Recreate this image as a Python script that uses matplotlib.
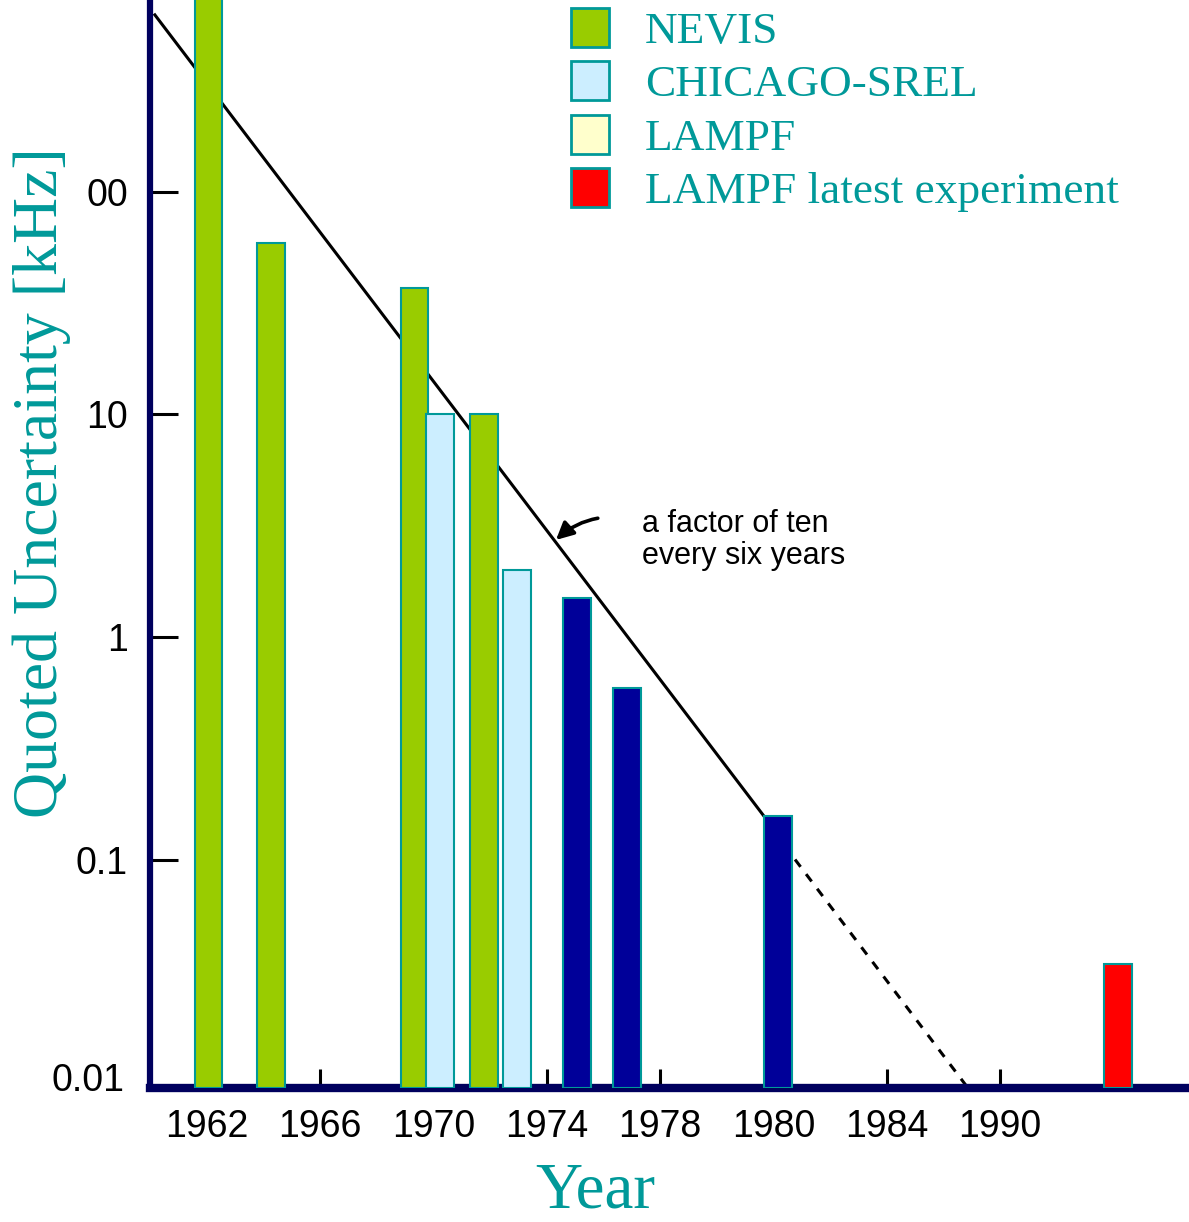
import matplotlib
matplotlib.use('Agg')
import matplotlib.pyplot as plt
from matplotlib.patches import Patch
from matplotlib.transforms import ScaledTranslation

# tick slots along the (hand-labelled) year axis
year_labels = ['1962', '1966', '1970', '1974', '1978', '1980', '1984', '1990']
year_pos = [0, 1, 2, 3, 4, 5, 6, 7]

# bar positions (in tick slots) and quoted uncertainties [kHz]
nevis_x = [0.01, 0.565, 1.83, 2.445]
nevis_val = [1000, 59, 37, 10]
chicago_x = [2.056, 2.736]
chicago_val = [10, 2.0]
lampf_x = [3.266, 3.707, 5.04]
lampf_val = [1.5, 0.59, 0.157]
latest_x = [8.04]
latest_val = [0.034]

# "factor of ten every six years" trend line
trend_x = [-0.46, 4.91]
trend_val = [625, 0.158]
trend_ext_x = [5.19, 6.73]
trend_ext_val = [0.10, 0.0092]

ytick_vals = [100, 10, 1, 0.1, 0.01]
ytick_labels = ['00', '10', '1', '0.1', '0.01']

teal = '#009999'
navy = '#00005e'
sans = ['Liberation Sans', 'DejaVu Sans']
serif = ['Liberation Serif', 'DejaVu Serif']

fig = plt.figure(figsize=(11.89, 12.22), dpi=100)
ax = fig.add_axes([150/1189, 1 - 1088/1222, 1039/1189, 1088/1222])
ax.set_yscale('log')
ymin, ymax = 0.0094, 729
ax.set_xlim(-0.503, 8.667)
ax.set_ylim(ymin, ymax)

w = 0.24
def bars(xs, vals, color):
    ax.bar(xs, [v - ymin for v in vals], bottom=ymin, width=w, color=color,
           edgecolor=teal, linewidth=1.5, zorder=3)

bars(nevis_x, nevis_val, '#99cc00')
bars(chicago_x, chicago_val, '#cceeff')
bars(lampf_x, lampf_val, '#000099')
bars(latest_x, latest_val, '#ff0000')

ax.plot(trend_x, trend_val, color='black', lw=2.2, zorder=2)
ax.plot(trend_ext_x, trend_ext_val, color='black', lw=2.2, ls=(0, (3, 3)), zorder=2)

ax.annotate('a factor of ten\nevery six years', xy=(3.08, 2.73), xytext=(3.84, 2.72),
            ha='left', va='center', fontsize=22, family=sans, linespacing=1.1,
            arrowprops=dict(arrowstyle='-|>', color='black', lw=2.6,
                            connectionstyle='arc3,rad=0.3', relpos=(0, 0.78),
                            shrinkA=30, shrinkB=0, mutation_scale=26))

ax.set_xticks(year_pos)
ax.set_xticklabels(year_labels, fontsize=27, family=sans)
ax.set_yticks(ytick_vals)
ax.set_yticklabels(ytick_labels, fontsize=27, family=sans)
ax.minorticks_off()
ax.tick_params(axis='x', direction='in', length=14, width=2.2, pad=15)
ax.tick_params(axis='y', direction='in', length=20, width=2.2, pad=16)

# the 0.01 label sits a little left and up in the original, with no tick mark
lab = ax.get_yticklabels()[-1]
lab.set_transform(lab.get_transform() + ScaledTranslation(-0.03, 0.05, fig.dpi_scale_trans))
ax.yaxis.get_major_ticks()[-1].tick1line.set_visible(False)

for s in ['top', 'right']:
    ax.spines[s].set_visible(False)
ax.spines['left'].set_color(navy)
ax.spines['left'].set_linewidth(4.5)
ax.spines['bottom'].set_color(navy)
ax.spines['bottom'].set_linewidth(6)

handles = [Patch(facecolor='#99cc00', edgecolor=teal, lw=2),
           Patch(facecolor='#cceeff', edgecolor=teal, lw=2),
           Patch(facecolor='#ffffcc', edgecolor=teal, lw=2),
           Patch(facecolor='#ff0000', edgecolor=teal, lw=2)]
names = ['NEVIS', 'CHICAGO-SREL', 'LAMPF', 'LAMPF latest experiment']
fig.legend(handles, names, loc='upper left', bbox_to_anchor=(571/1189, 1 - 8/1222),
           frameon=False, prop={'family': serif, 'size': 32.7}, labelcolor=teal,
           handlelength=0.84, handleheight=0.95, handletextpad=0.79,
           labelspacing=0.2, borderpad=0, borderaxespad=0)

fig.text(42/1189, 1 - 483/1222, 'Quoted Uncertainty [kHz]', rotation=90,
         ha='center', va='center', fontsize=46, family=serif, color=teal)
fig.text(595/1189, 1 - 1207/1222, 'Year', ha='center', va='baseline',
         fontsize=47, family=serif, color=teal)

fig.savefig('out.png', dpi=100)
